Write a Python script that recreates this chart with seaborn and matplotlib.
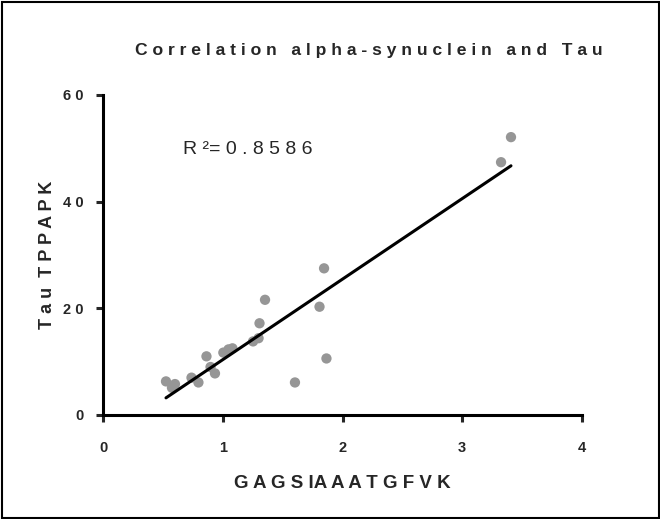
import numpy as np
import pandas as pd
import matplotlib
matplotlib.use("Agg")
import matplotlib.pyplot as plt
from matplotlib.patches import Rectangle
from matplotlib.ticker import FuncFormatter
import seaborn as sns

# Peptide abundances: alpha-synuclein (GAGSIAAATGFVK) vs Tau (TPPAPK)
gagsiaaatgfvk = [0.526, 0.601, 0.576, 0.739, 0.797, 0.864, 0.898, 0.935,
                 1.005, 1.048, 1.081, 1.253, 1.299, 1.307, 1.353, 1.603,
                 1.808, 1.846, 1.866, 3.324, 3.407]
tau_tppapk = [6.3, 5.8, 5.1, 7.0, 6.1, 11.0, 9.0, 7.8,
              11.7, 12.3, 12.5, 13.8, 14.4, 17.2, 21.6, 6.1,
              20.3, 27.5, 10.6, 47.4, 52.1]
x_ticks = [0, 1, 2, 3, 4]
y_ticks = [0, 20, 40, 60]
r_squared = "0.8586"

df = pd.DataFrame({"GAGSIAAATGFVK": gagsiaaatgfvk, "Tau TPPAPK": tau_tppapk})

sns.set_theme(style="ticks")
plt.rcParams["font.family"] = ["Liberation Sans", "DejaVu Sans"]


def tracked(text, word_gap=3):
    """Spread letters apart the way Prism exports its labels."""
    words = text.split(" ")
    return (" " * word_gap).join(" ".join(w) for w in words)


fig = plt.figure(figsize=(6.6, 5.19), dpi=100)
ax = fig.add_axes([103 / 660, 1 - 415 / 519, (582 - 103) / 660, (415 - 95) / 519])

sns.regplot(data=df, x="GAGSIAAATGFVK", y="Tau TPPAPK", ax=ax, ci=None,
            scatter_kws=dict(s=55, color="#969696", edgecolor="none", alpha=1, zorder=2),
            line_kws=dict(color="black", lw=2.2, zorder=3))

ax.set_xlim(0, 4)
ax.set_ylim(0, 60)
ax.set_xticks(x_ticks)
ax.set_yticks(y_ticks)
fmt = FuncFormatter(lambda v, p: " ".join(str(int(v))))
ax.xaxis.set_major_formatter(fmt)
ax.yaxis.set_major_formatter(fmt)
ax.tick_params(axis="both", length=5, width=2.2, labelsize=10.5, pad=9)
ax.tick_params(axis="x", pad=14)
for lab in ax.get_xticklabels() + ax.get_yticklabels():
    lab.set_fontweight("bold")

sns.despine(ax=ax)
for side in ("left", "bottom"):
    ax.spines[side].set_linewidth(2.2)
    ax.spines[side].set_color("black")

ax.set_xlabel("G A G S IA A A T G F V K", fontsize=13.5, fontweight="bold", labelpad=14)
ax.set_ylabel(tracked("Tau TPPAPK", 2), fontsize=13, fontweight="bold", labelpad=5)

ax.text(183 / 660, 1 - 150 / 519, "R ²= " + " ".join(r_squared), transform=fig.transFigure,
        fontsize=14, ha="left", va="center")

fig.text(369 / 660, 1 - 50 / 519, tracked("Correlation alpha-synuclein and Tau"),
         fontsize=12.6, fontweight="bold", ha="center", va="center")

fig.patches.append(Rectangle((1.5 / 660, 1.5 / 519), 1 - 3 / 660, 1 - 3 / 519,
                             transform=fig.transFigure, fill=False,
                             edgecolor="black", lw=1.5))

fig.savefig("out.png", dpi=100)
